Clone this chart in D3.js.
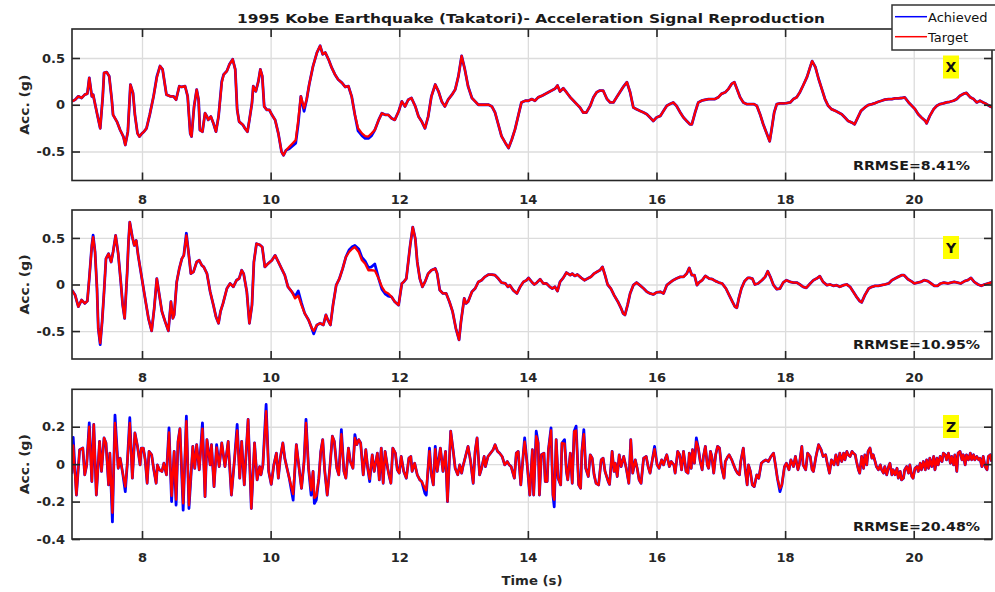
<!DOCTYPE html>
<html><head><meta charset="utf-8">
<script src="https://cdn.jsdelivr.net/npm/d3@7"></script>
<style>
body{margin:0;background:#fff;}
svg{display:block;}
text{font-family:"DejaVu Sans",sans-serif;}
</style></head><body>
<svg id="c" width="995" height="592"></svg>
<script>
// ---------------- DATA ----------------
const titleText = "1995 Kobe Earthquake (Takatori)- Acceleration Signal Reproduction";
const xTickValues = [8,10,12,14,16,18,20];
const yTicksXY = [-0.5,0,0.5];
const yTicksZ = [-0.4,-0.2,0,0.2];
const seriesNames = ["Achieved","Target"];
const panelLabels = ["X","Y","Z"];
const rrmseTexts = ["RRMSE=8.41%","RRMSE=10.95%","RRMSE=20.48%"];

// X direction
const xTime = [6.91,6.96,7.01,7.06,7.11,7.15,7.18,7.22,7.24,7.30,7.35,7.39,7.41,7.45,7.49,7.53,7.55,7.61,7.66,7.71,7.74,7.78,7.82,7.86,7.89,7.93,7.96,8.00,8.03,8.07,8.12,8.18,8.23,8.28,8.32,8.36,8.38,8.44,8.49,8.53,8.58,8.62,8.67,8.71,8.75,8.77,8.81,8.85,8.88,8.90,8.94,8.98,9.01,9.03,9.07,9.11,9.15,9.19,9.24,9.27,9.32,9.36,9.41,9.45,9.48,9.51,9.57,9.60,9.64,9.67,9.71,9.73,9.77,9.81,9.84,9.87,9.90,9.94,9.98,10.02,10.07,10.12,10.17,10.20,10.24,10.29,10.34,10.39,10.43,10.47,10.52,10.56,10.60,10.66,10.72,10.77,10.81,10.85,10.90,10.95,11.00,11.05,11.11,11.16,11.21,11.26,11.31,11.36,11.42,11.47,11.52,11.57,11.62,11.68,11.73,11.78,11.83,11.88,11.93,11.99,12.04,12.09,12.14,12.19,12.25,12.30,12.35,12.40,12.45,12.50,12.56,12.61,12.66,12.71,12.76,12.82,12.87,12.92,12.97,13.02,13.07,13.13,13.18,13.23,13.28,13.33,13.39,13.44,13.49,13.54,13.59,13.65,13.70,13.75,13.80,13.85,13.90,13.96,14.01,14.06,14.11,14.16,14.22,14.27,14.32,14.37,14.42,14.46,14.50,14.55,14.60,14.66,14.71,14.76,14.81,14.86,14.91,14.97,15.02,15.07,15.12,15.17,15.23,15.28,15.33,15.38,15.43,15.48,15.54,15.59,15.64,15.69,15.74,15.80,15.85,15.90,15.95,16.00,16.06,16.11,16.16,16.21,16.26,16.31,16.37,16.42,16.47,16.52,16.55,16.60,16.65,16.70,16.75,16.81,16.86,16.91,16.96,17.01,17.07,17.12,17.17,17.21,17.25,17.30,17.35,17.40,17.45,17.51,17.56,17.61,17.66,17.71,17.76,17.79,17.83,17.87,17.92,17.97,18.02,18.08,18.13,18.18,18.23,18.28,18.34,18.39,18.42,18.47,18.52,18.57,18.62,18.67,18.72,18.78,18.83,18.88,18.93,18.98,19.04,19.08,19.13,19.18,19.24,19.29,19.35,19.40,19.45,19.50,19.55,19.61,19.66,19.71,19.76,19.81,19.86,19.92,19.97,20.02,20.07,20.12,20.18,20.20,20.25,20.31,20.36,20.41,20.46,20.51,20.56,20.62,20.67,20.72,20.77,20.82,20.88,20.93,20.98,21.03,21.08,21.13,21.19,21.23];
const xTarget = [0.036,0.054,0.09,0.072,0.108,0.119,0.288,0.09,0.108,-0.09,-0.252,0.09,0.342,0.349,0.306,0.054,-0.108,-0.18,-0.27,-0.34,-0.43,-0.288,0.216,0.126,-0.108,-0.306,-0.34,-0.306,-0.288,-0.252,-0.108,0.09,0.288,0.414,0.378,0.198,0.108,0.09,0.09,0.054,0.198,0.19,0.198,0.09,-0.306,-0.34,-0.018,0.162,0.054,-0.27,-0.288,-0.09,-0.126,-0.162,-0.126,-0.198,-0.288,-0.126,0.234,0.324,0.36,0.432,0.486,0.378,-0.054,-0.18,-0.216,-0.252,-0.288,-0.162,0.018,0.198,0.144,0.252,0.378,0.306,-0.018,-0.054,-0.054,-0.108,-0.162,-0.306,-0.504,-0.54,-0.486,-0.45,-0.414,-0.378,-0.162,0.09,-0.036,0.054,0.216,0.414,0.558,0.63,0.54,0.558,0.486,0.396,0.324,0.27,0.234,0.19,0.198,0.09,-0.108,-0.252,-0.306,-0.335,-0.34,-0.306,-0.27,-0.162,-0.09,-0.108,-0.108,-0.144,-0.162,-0.072,0.036,-0.018,0.054,0.072,-0.018,-0.126,-0.18,-0.252,-0.126,0.09,0.216,0.144,0.036,-0.018,0.054,0.108,0.162,0.306,0.522,0.378,0.198,0.072,0.036,0,0,0,0,-0.018,-0.083,-0.209,-0.336,-0.408,-0.462,-0.372,-0.264,-0.119,0.025,0.043,0.043,0.061,0.043,0.079,0.097,0.116,0.134,0.152,0.17,0.206,0.141,0.177,0.134,0.079,0.043,0.007,-0.029,-0.083,-0.083,-0.011,0.079,0.134,0.152,0.152,0.061,0.025,0.025,0.079,0.134,0.188,0.242,0.134,-0.029,-0.047,-0.065,-0.083,-0.101,-0.137,-0.173,-0.137,-0.119,-0.065,-0.011,0.007,0.025,-0.011,-0.083,-0.137,-0.173,-0.209,-0.209,-0.083,0.025,0.043,0.051,0.061,0.061,0.061,0.079,0.116,0.134,0.17,0.224,0.242,0.17,0.079,0.025,0.007,0.007,0.007,-0.011,-0.101,-0.209,-0.30,-0.39,-0.264,-0.083,0.007,0.014,0.014,0.018,0.025,0.061,0.079,0.134,0.206,0.296,0.404,0.466,0.404,0.278,0.17,0.061,-0.011,-0.047,-0.065,-0.083,-0.101,-0.137,-0.173,-0.191,-0.209,-0.137,-0.065,-0.029,-0.004,0.007,0.018,0.032,0.043,0.054,0.061,0.061,0.069,0.069,0.072,0.079,0.025,-0.011,-0.047,-0.101,-0.137,-0.173,-0.199,-0.119,-0.047,-0.011,0.007,0.014,0.025,0.032,0.043,0.061,0.097,0.116,0.126,0.079,0.061,0.025,0.043,0.025,0.007,-0.018,-0.03];
// Achieved values where the blue trace visibly departs from the red one
const xAchTime = [8.23,9.24,10.29,10.34,10.39,10.43,10.52,11.36,11.42,11.47,11.52,11.57];
const xAchVal  = [0.30,0.25,-0.47,-0.44,-0.41,-0.20,-0.07,-0.28,-0.33,-0.36,-0.36,-0.33];

// Y direction
const yTime = [6.91,6.96,7.01,7.06,7.11,7.15,7.18,7.22,7.24,7.27,7.30,7.32,7.35,7.38,7.41,7.44,7.48,7.52,7.55,7.59,7.63,7.67,7.70,7.73,7.77,7.79,7.81,7.85,7.88,7.91,7.94,7.99,8.04,8.10,8.15,8.19,8.23,8.27,8.31,8.36,8.41,8.45,8.48,8.50,8.54,8.58,8.62,8.65,8.69,8.72,8.76,8.80,8.85,8.89,8.93,8.96,9.01,9.06,9.11,9.15,9.19,9.22,9.26,9.32,9.37,9.42,9.47,9.51,9.55,9.58,9.63,9.67,9.71,9.74,9.78,9.83,9.87,9.91,9.96,10.02,10.07,10.12,10.17,10.22,10.27,10.33,10.38,10.43,10.48,10.53,10.59,10.64,10.67,10.72,10.77,10.82,10.86,10.89,10.93,10.97,11.02,11.07,11.12,11.17,11.22,11.27,11.31,11.37,11.42,11.47,11.52,11.57,11.62,11.68,11.73,11.78,11.83,11.88,11.93,11.99,12.04,12.07,12.11,12.17,12.21,12.25,12.28,12.32,12.36,12.40,12.45,12.50,12.56,12.59,12.63,12.68,12.73,12.78,12.83,12.88,12.93,12.96,13.01,13.04,13.07,13.13,13.18,13.23,13.28,13.33,13.39,13.44,13.49,13.54,13.59,13.65,13.69,13.72,13.77,13.83,13.88,13.93,13.98,14.01,14.06,14.10,14.14,14.19,14.24,14.29,14.34,14.38,14.42,14.46,14.50,14.55,14.60,14.66,14.69,14.73,14.77,14.83,14.88,14.93,14.98,15.03,15.09,15.12,15.16,15.20,15.24,15.29,15.34,15.40,15.45,15.48,15.51,15.55,15.59,15.64,15.69,15.74,15.80,15.85,15.90,15.95,16.00,16.06,16.11,16.16,16.21,16.26,16.31,16.37,16.42,16.47,16.51,16.55,16.59,16.63,16.66,16.71,16.76,16.82,16.87,16.92,16.97,17.02,17.08,17.13,17.18,17.22,17.25,17.28,17.32,17.37,17.42,17.45,17.49,17.53,17.58,17.64,17.69,17.73,17.77,17.82,17.87,17.92,17.97,18.02,18.08,18.13,18.18,18.23,18.28,18.33,18.39,18.44,18.49,18.54,18.59,18.65,18.70,18.75,18.80,18.85,18.91,18.96,19.01,19.06,19.11,19.16,19.19,19.24,19.30,19.35,19.40,19.45,19.50,19.55,19.61,19.66,19.71,19.76,19.81,19.85,19.91,19.96,20.01,20.06,20.11,20.16,20.22,20.27,20.32,20.37,20.42,20.47,20.53,20.58,20.63,20.68,20.73,20.79,20.84,20.89,20.94,21.00,21.05,21.10,21.15,21.20,21.24];
const yTarget = [-0.06,-0.114,-0.238,-0.167,-0.203,-0.178,0.064,0.42,0.509,0.349,-0.043,-0.47,-0.63,-0.399,-0.078,0.278,0.331,0.242,0.349,0.527,0.331,0.028,-0.221,-0.363,0.135,0.456,0.669,0.509,0.42,0.473,0.313,0.1,-0.114,-0.363,-0.498,-0.256,0.064,-0.114,-0.292,-0.399,-0.498,-0.185,-0.363,-0.327,0.028,0.171,0.278,0.313,0.527,0.367,0.117,0.135,0.242,0.26,0.206,0.189,0.117,-0.078,-0.221,-0.345,-0.416,-0.292,-0.203,-0.043,0.011,-0.025,0.046,0.064,0.153,0.117,-0.078,-0.416,-0.221,0.242,0.438,0.427,0.402,0.189,0.224,0.26,0.313,0.242,0.171,0.1,-0.025,-0.078,-0.149,-0.12,-0.221,-0.31,-0.381,-0.47,-0.498,-0.434,-0.416,-0.434,-0.327,-0.381,-0.434,-0.221,-0.007,0.064,0.171,0.295,0.349,0.384,0.402,0.349,0.26,0.224,0.153,0.153,0.15,0.064,-0.025,-0.078,-0.096,-0.132,-0.185,-0.221,0.011,0.028,0.064,0.42,0.616,0.491,0.242,0.064,-0.025,0.028,0.117,0.153,0.171,0.117,-0.06,-0.096,-0.096,-0.185,-0.292,-0.47,-0.594,-0.399,-0.149,-0.203,-0.185,-0.078,-0.043,0.028,0.046,0.082,0.107,0.107,0.1,0.064,0.021,0.011,-0.025,-0.007,-0.06,-0.096,-0.025,0.028,0.046,0.071,0.028,0,0.021,0.057,0.011,0.011,-0.025,-0.043,-0.025,-0.071,0.028,0.071,0.128,0.1,0.117,0.092,0.107,0.071,0.046,0.064,0.082,0.117,0.142,0.153,0.189,0.1,0,-0.043,-0.114,-0.185,-0.256,-0.31,-0.327,-0.221,-0.096,-0.007,0.021,-0.007,-0.043,-0.078,-0.096,-0.107,-0.085,-0.078,-0.096,-0.007,0.021,0.046,0.064,0.082,0.082,0.117,0.178,0.1,0.1,-0.007,0.021,0.046,0.092,0.064,0.057,0.036,0.021,0.011,-0.043,-0.114,-0.185,-0.238,-0.249,-0.149,-0.043,0.036,0.071,0.071,0.064,0,0.011,0.046,0.082,0.142,0.082,-0.007,-0.05,-0.043,0.021,0.046,0.028,0.021,0.021,0,-0.025,-0.036,0.011,0.046,0.064,0.089,0.028,-0.007,0,-0.014,-0.007,-0.025,-0.007,0,-0.025,-0.078,-0.132,-0.178,-0.192,-0.114,-0.043,-0.025,-0.014,-0.014,-0.007,0,0.011,0.046,0.064,0.082,0.1,0.1,0.057,0.036,0.011,0.021,0.028,0.046,0.036,0.011,-0.014,-0.014,0.011,0.021,0.011,0.021,0.028,0.021,0.011,0.036,0.046,0.071,0.028,0,-0.014,0,0.011,0.021,0.036];
const yAchTime = [7.24,7.35,8.69,10.38,10.43,10.48,10.67,11.22,11.27,11.31,11.37,11.42,11.47,11.52,11.57,11.62,11.73,11.78,11.83];
const yAchVal  = [0.53,-0.645,0.55,-0.13,-0.07,-0.20,-0.53,0.37,0.405,0.42,0.38,0.29,0.25,0.18,0.19,0.22,-0.05,-0.10,-0.125];

// Z direction
const zTime = [6.91,6.93,6.98,7.03,7.08,7.11,7.14,7.18,7.22,7.25,7.29,7.34,7.37,7.41,7.44,7.48,7.50,7.54,7.58,7.63,7.66,7.70,7.74,7.77,7.81,7.85,7.89,7.93,7.97,7.99,8.02,8.05,8.08,8.11,8.15,8.18,8.22,8.24,8.27,8.31,8.34,8.38,8.42,8.46,8.50,8.53,8.56,8.59,8.64,8.69,8.73,8.79,8.82,8.85,8.89,8.94,8.98,9.01,9.06,9.08,9.12,9.16,9.20,9.24,9.29,9.34,9.39,9.44,9.48,9.52,9.55,9.59,9.65,9.70,9.75,9.79,9.83,9.85,9.88,9.93,9.97,10.01,10.05,10.09,10.12,10.15,10.19,10.22,10.26,10.29,10.35,10.40,10.44,10.48,10.52,10.55,10.59,10.63,10.66,10.68,10.71,10.75,10.78,10.81,10.84,10.88,10.92,10.96,10.99,11.03,11.06,11.10,11.14,11.17,11.21,11.24,11.28,11.31,11.34,11.37,11.40,11.44,11.48,11.51,11.54,11.58,11.61,11.66,11.69,11.72,11.75,11.78,11.82,11.84,11.87,11.90,11.94,11.97,12.00,12.03,12.07,12.11,12.15,12.18,12.20,12.24,12.28,12.32,12.35,12.40,12.42,12.47,12.50,12.53,12.56,12.59,12.64,12.68,12.72,12.75,12.80,12.84,12.87,12.91,12.94,12.97,12.99,13.03,13.07,13.11,13.15,13.18,13.21,13.25,13.28,13.32,13.34,13.38,13.42,13.46,13.49,13.53,13.56,13.60,13.64,13.68,13.71,13.74,13.79,13.82,13.85,13.89,13.93,13.95,13.99,14.03,14.07,14.09,14.13,14.16,14.18,14.21,14.25,14.27,14.30,14.32,14.36,14.39,14.41,14.44,14.47,14.51,14.53,14.57,14.60,14.62,14.66,14.69,14.72,14.75,14.79,14.82,14.84,14.87,14.90,14.94,14.97,15.00,15.03,15.06,15.10,15.14,15.17,15.20,15.25,15.27,15.31,15.34,15.36,15.39,15.42,15.45,15.49,15.53,15.57,15.60,15.63,15.67,15.70,15.73,15.76,15.80,15.84,15.87,15.90,15.94,15.97,16.01,16.04,16.08,16.11,16.14,16.16,16.20,16.23,16.27,16.29,16.33,16.36,16.39,16.42,16.46,16.49,16.51,16.54,16.56,16.59,16.62,16.65,16.68,16.71,16.73,16.76,16.79,16.81,16.84,16.86,16.89,16.92,16.95,16.98,17.01,17.05,17.07,17.11,17.13,17.17,17.20,17.23,17.26,17.29,17.31,17.35,17.38,17.41,17.43,17.46,17.49,17.52,17.56,17.59,17.63,17.66,17.70,17.74,17.78,17.82,17.85,17.88,17.92,17.95,17.99,18.02,18.06,18.09,18.13,18.16,18.20,18.22,18.26,18.28,18.32,18.35,18.39,18.42,18.44,18.48,18.52,18.56,18.59,18.63,18.65,18.69,18.72,18.76,18.79,18.82,18.85,18.88,18.91,18.93,18.96,18.98,19.01,19.04,19.06,19.09,19.11,19.14,19.16,19.19,19.22,19.24,19.27,19.29,19.32,19.35,19.37,19.40,19.42,19.45,19.48,19.50,19.53,19.55,19.58,19.61,19.63,19.66,19.68,19.71,19.74,19.76,19.79,19.81,19.84,19.86,19.89,19.92,19.94,19.97,19.99,20.02,20.05,20.07,20.10,20.12,20.15,20.18,20.20,20.23,20.25,20.28,20.31,20.33,20.36,20.38,20.41,20.44,20.46,20.49,20.51,20.54,20.57,20.59,20.62,20.64,20.67,20.69,20.72,20.75,20.77,20.80,20.82,20.85,20.88,20.90,20.93,20.95,20.98,21.01,21.03,21.06,21.08,21.11,21.14,21.16,21.19,21.21];
const zTarget = [-0.05,0.10,-0.165,0.077,0.086,-0.057,-0.004,0.20,-0.093,0.212,-0.165,0.122,-0.039,0.14,0.113,-0.111,0.059,-0.26,0.22,-0.022,0.032,-0.048,-0.12,-0.004,0.22,-0.075,0.167,0.095,-0.004,0.086,0.086,0.023,-0.102,0.068,0.05,-0.022,-0.102,-0.004,-0.03,-0.039,0.005,-0.057,0.17,-0.17,0.068,-0.19,0.12,0.19,-0.21,0.23,-0.22,0.095,-0.022,0.104,-0.03,0.19,-0.174,0.131,-0.004,0.104,-0.12,0.09,-0.013,0.113,-0.013,0.122,-0.165,0.032,0.18,-0.075,0.122,-0.111,0.239,-0.237,0.113,-0.084,-0.013,-0.057,-0.004,0.283,-0.039,-0.108,-0.004,0.059,-0.075,0.032,0.113,0.032,-0.03,-0.075,-0.16,0.104,-0.013,-0.129,0.014,0.22,-0.022,-0.14,-0.039,-0.18,-0.17,-0.075,0.068,0.131,-0.03,-0.165,-0.022,0.149,0.122,-0.022,-0.057,0.16,-0.039,-0.075,0.086,0.014,-0.022,0.14,0.104,0.131,0.113,-0.057,0.077,-0.022,-0.08,0.05,-0.039,0.059,-0.084,0.086,-0.102,0.068,-0.022,-0.057,-0.102,0.086,0.059,-0.03,-0.048,0.041,-0.039,-0.075,0.032,0.041,-0.039,0.005,-0.057,-0.084,-0.093,-0.13,-0.14,0.07,-0.057,-0.111,0.08,-0.039,0.086,-0.039,0.068,-0.2,0.176,0.068,-0.022,-0.057,-0.004,-0.048,-0.013,0.041,0.095,0.014,-0.102,0.068,0.14,-0.057,-0.022,0.041,-0.013,0.041,0.059,0.077,0.104,0.068,0.059,0.041,-0.004,0.014,-0.004,-0.013,-0.075,0.059,0.068,-0.111,0.059,0.12,-0.004,-0.165,0.077,-0.165,0.15,0.113,-0.165,0.05,0.059,-0.093,-0.093,0.077,0.18,-0.165,-0.19,0.131,-0.075,-0.111,0.113,0.11,-0.039,-0.084,0.059,-0.102,0.176,0.18,-0.111,-0.129,0.068,0.16,-0.022,-0.066,0.05,0.032,-0.057,-0.102,-0.111,0.023,0.032,-0.039,-0.093,-0.108,0.068,-0.039,0.005,-0.066,0.05,-0.013,0.041,-0.022,-0.102,0.131,-0.048,0.023,-0.022,-0.084,-0.102,0.032,0.041,-0.013,-0.048,0.032,0.08,-0.004,-0.022,0.023,-0.004,0.032,0.05,-0.013,0.014,-0.004,-0.048,0.068,0.05,-0.03,0.068,-0.039,-0.048,0.059,-0.022,0.077,0.005,0.12,0.086,0.014,-0.03,0.041,0.095,-0.004,-0.022,0.068,0.041,-0.048,0.05,0.095,0.086,-0.013,-0.075,0.014,0.041,0.05,0.023,-0.004,-0.03,-0.048,-0.057,0.014,0.086,-0.03,-0.111,-0.004,-0.039,-0.111,-0.12,-0.057,-0.075,0.005,0.014,0.023,0.014,0.041,0.059,-0.004,-0.075,-0.13,-0.111,-0.013,0.005,-0.03,0.023,-0.013,0.041,-0.03,-0.004,0.095,-0.004,-0.03,0.059,0.041,-0.03,-0.039,0.041,0.104,0.077,0.041,0.05,0.014,-0.048,0.023,-0.004,0.05,-0.004,0.059,0.014,0.059,0.023,0.068,0.05,0.041,0.068,0.059,0.05,0.014,-0.03,-0.048,0.041,-0.022,0.05,-0.004,0.068,0.086,0.032,0.05,0.014,-0.013,-0.03,-0.004,-0.03,-0.048,-0.013,-0.057,-0.013,0.005,-0.057,-0.03,-0.057,-0.022,-0.075,-0.039,-0.084,-0.075,-0.03,-0.013,-0.048,-0.004,-0.066,-0.075,-0.022,-0.013,-0.039,0.005,-0.03,0.014,-0.03,0.023,-0.022,0.032,-0.013,0.041,-0.03,0.032,-0.004,0.041,0.014,0.059,0.05,0.023,0.059,0.005,0.041,-0.004,0.05,-0.039,0.059,0.068,0.023,0.05,-0.004,0.05,0.023,0.059,0.023,0.05,0.023,0.041,0.023,0.032,-0.013,0.041,-0.013,-0.03,0.041,0.05,0.014];
const zAchTime = [6.93,7.18,7.54,7.58,7.74,7.81,8.42,8.46,8.53,8.64,8.69,8.73,8.94,9.16,9.48,9.93,10.35,10.55,10.63,10.68,10.71,11.10,11.31,11.54,12.40,12.42,12.47,12.56,13.95,14.13,14.36,14.41,14.57,14.75,14.87,15.97,16.62,17.92];
const zAchVal  = [0.143,0.221,-0.309,0.262,-0.147,0.248,0.194,-0.2,-0.219,-0.246,0.256,-0.237,0.221,0.104,0.212,0.319,-0.192,0.239,-0.165,-0.21,-0.192,0.185,0.158,-0.093,-0.156,-0.165,0.086,0.095,0.14,0.176,0.194,-0.228,0.131,0.203,0.185,0.095,0.14,-0.147];

// ---------------- CHART ----------------
const svg = d3.select("#c");
const plotLeft = 72, plotRight = 992;
const x = d3.scaleLinear().domain([6.9115, 21.217]).range([plotLeft, plotRight]);
const C_BLUE = "#0000ff", C_RED = "#ff0000", C_AX = "#262626";

function buildAchieved(time, target, at, av) {
  const m = new Map(at.map((t, i) => [t, av[i]]));
  return time.map((t, i) => m.has(t) ? m.get(t) : target[i]);
}

const panels = [
  {time: xTime, target: xTarget, ach: buildAchieved(xTime, xTarget, xAchTime, xAchVal),
   top: 29, bottom: 180.5, dom: [-0.81, 0.81], ticks: yTicksXY, label: panelLabels[0], rr: rrmseTexts[0], labY: 67, rrY: 165, rrW: 117},
  {time: yTime, target: yTarget, ach: buildAchieved(yTime, yTarget, yAchTime, yAchVal),
   top: 210, bottom: 359, dom: [-0.8, 0.8], ticks: yTicksXY, label: panelLabels[1], rr: rrmseTexts[1], labY: 247.5, rrY: 344, rrW: 127},
  {time: zTime, target: zTarget, ach: buildAchieved(zTime, zTarget, zAchTime, zAchVal),
   top: 389.3, bottom: 539, dom: [-0.4, 0.4], ticks: yTicksZ, label: panelLabels[2], rr: rrmseTexts[2], labY: 426.5, rrY: 526, rrW: 127}
];

panels.forEach((p, pi) => {
  const y = d3.scaleLinear().domain(p.dom).range([p.bottom, p.top]);
  const g = svg.append("g");
  const h = p.bottom - p.top, w = plotRight - plotLeft;

  g.append("rect").attr("x", plotLeft).attr("y", p.top).attr("width", w).attr("height", h).attr("fill", "#fff");

  // grids
  g.append("g").attr("transform", `translate(0,${p.bottom})`)
    .call(d3.axisBottom(x).tickValues(xTickValues).tickSize(-h).tickFormat(""))
    .call(s => { s.select(".domain").remove(); s.selectAll("line").attr("stroke", "#dcdcdc").attr("stroke-width", 1.3); });
  g.append("g").attr("transform", `translate(${plotLeft},0)`)
    .call(d3.axisLeft(y).tickValues(p.ticks).tickSize(-w).tickFormat(""))
    .call(s => { s.select(".domain").remove(); s.selectAll("line").attr("stroke", "#dcdcdc").attr("stroke-width", 1.3); });

  // clip
  const cid = "clip" + pi;
  svg.append("clipPath").attr("id", cid).append("rect")
    .attr("x", plotLeft).attr("y", p.top).attr("width", w).attr("height", h);

  const line = d3.line().x(d => x(d[0])).y(d => y(d[1])).curve(d3.curveLinear);
  const lg = g.append("g").attr("clip-path", `url(#${cid})`);
  lg.append("path").datum(p.time.map((t, i) => [t, p.ach[i]]))
    .attr("d", line).attr("fill", "none").attr("stroke", C_BLUE).attr("stroke-width", 2.8).attr("stroke-linejoin", "round");
  lg.append("path").datum(p.time.map((t, i) => [t, p.target[i]]))
    .attr("d", line).attr("fill", "none").attr("stroke", C_RED).attr("stroke-width", 2.3).attr("stroke-linejoin", "round");

  // axes (inward ticks, MATLAB box style)
  const styleAx = s => {
    s.select(".domain").remove();
    s.selectAll(".tick line").attr("stroke", C_AX).attr("stroke-width", 1.6);
    s.selectAll("text").attr("font-size", 13).attr("font-weight", "bold").attr("fill", C_AX)
      .attr("font-family", "'DejaVu Sans',sans-serif");
  };
  g.append("g").attr("transform", `translate(0,${p.bottom})`)
    .call(d3.axisBottom(x).tickValues(xTickValues).tickSizeInner(-8).tickSizeOuter(0).tickPadding(14).tickFormat(d => String(d)))
    .call(styleAx);
  g.append("g").attr("transform", `translate(0,${p.top})`)
    .call(d3.axisTop(x).tickValues(xTickValues).tickSizeInner(-8).tickSizeOuter(0).tickFormat(""))
    .call(styleAx);
  g.append("g").attr("transform", `translate(${plotLeft},0)`)
    .call(d3.axisLeft(y).tickValues(p.ticks).tickSizeInner(-8).tickSizeOuter(0).tickPadding(7).tickFormat(d => String(d)))
    .call(styleAx);
  g.append("g").attr("transform", `translate(${plotRight},0)`)
    .call(d3.axisRight(y).tickValues(p.ticks).tickSizeInner(-8).tickSizeOuter(0).tickFormat(""))
    .call(styleAx);

  g.append("rect").attr("x", plotLeft).attr("y", p.top).attr("width", w).attr("height", h)
    .attr("fill", "none").attr("stroke", C_AX).attr("stroke-width", 1.6);

  // y label
  g.append("text").attr("transform", `translate(29,${(p.top + p.bottom) / 2}) rotate(-90)`)
    .attr("text-anchor", "middle").attr("font-size", 13).attr("font-weight", "bold").attr("fill", C_AX)
    .attr("textLength", 60).attr("lengthAdjust", "spacingAndGlyphs").text("Acc. (g)");

  // panel tag
  g.append("rect").attr("x", 943).attr("y", p.labY - 11.5).attr("width", 16).attr("height", 23).attr("fill", "#ffff00");
  g.append("text").attr("x", 951).attr("y", p.labY + 5).attr("text-anchor", "middle")
    .attr("font-size", 14).attr("font-weight", "bold").attr("fill", "#111").text(p.label);

  // RRMSE
  g.append("text").attr("x", 853).attr("y", p.rrY + 5).attr("font-size", 13).attr("font-weight", "bold")
    .attr("fill", "#1a1a1a").attr("textLength", p.rrW).attr("lengthAdjust", "spacingAndGlyphs").text(p.rr);
});

// title
svg.append("text").attr("x", 531).attr("y", 23).attr("text-anchor", "middle")
  .attr("font-size", 13).attr("font-weight", "bold").attr("fill", "#1a1a1a")
  .attr("textLength", 588).attr("lengthAdjust", "spacingAndGlyphs").text(titleText);

// x label
svg.append("text").attr("x", 532).attr("y", 585).attr("text-anchor", "middle")
  .attr("font-size", 13).attr("font-weight", "bold").attr("fill", C_AX)
  .attr("textLength", 61).attr("lengthAdjust", "spacingAndGlyphs").text("Time (s)");

// legend
const leg = svg.append("g");
leg.append("rect").attr("x", 892).attr("y", 5).attr("width", 106).attr("height", 45)
  .attr("fill", "#fff").attr("stroke", "#333").attr("stroke-width", 1.5);
[C_BLUE, C_RED].forEach((c, i) => {
  const yy = 16.7 + i * 20;
  leg.append("line").attr("x1", 895).attr("x2", 927).attr("y1", yy).attr("y2", yy).attr("stroke", c).attr("stroke-width", 1.5);
  leg.append("text").attr("x", 928).attr("y", yy + 5).attr("font-size", 13).attr("fill", "#111")
    .text(seriesNames[i]);
});
</script>
</body></html>
